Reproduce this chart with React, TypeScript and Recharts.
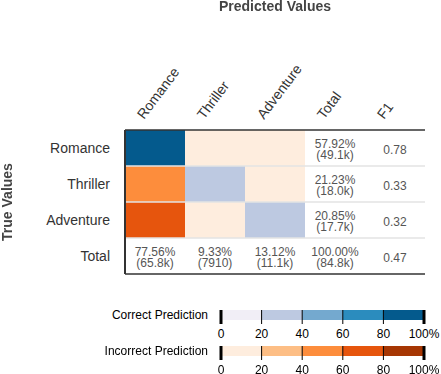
import React from 'react';
import {
  ComposedChart, XAxis, YAxis, ReferenceArea, ReferenceLine, Scatter, BarChart, Bar,
} from 'recharts';

// ---- data ----
const classes = ['Romance', 'Thriller', 'Adventure'];
const columnLabels = ['Romance', 'Thriller', 'Adventure', 'Total', 'F1'];
const rowLabels = ['Romance', 'Thriller', 'Adventure', 'Total'];
// confusion matrix counts (rows = true, cols = predicted), estimated
const romanceRow = [44800, 1230, 3080];
const thrillerRow = [10300, 4280, 3420];
const adventureRow = [10700, 2400, 4600];
const rowTotalPct = ['57.92%', '21.23%', '20.85%'];
const rowTotalCount = ['(49.1k)', '(18.0k)', '(17.7k)'];
const colTotalPct = ['77.56%', '9.33%', '13.12%'];
const colTotalCount = ['(65.8k)', '(7910)', '(11.1k)'];
const grandPct = '100.00%';
const grandCount = '(84.8k)';
const f1Scores = ['0.78', '0.33', '0.32'];
const f1Total = '0.47';
const legendStops = [0, 20, 40, 60, 80, 100];
const correctColors = ['#f1eef6', '#bdc9e1', '#74a9cf', '#2b8cbe', '#045a8d'];
const incorrectColors = ['#feedde', '#fdbe85', '#fd8d3c', '#e6550d', '#a63603'];

const matrix = [romanceRow, thrillerRow, adventureRow];
const FONT = '"Liberation Sans", Arial, sans-serif';

const binColor = (pct: number, colors: string[]) => {
  const idx = Math.min(colors.length - 1, Math.floor(pct / 20));
  return colors[idx];
};

const cells = matrix.flatMap((row, r) => {
  const total = row.reduce((a, b) => a + b, 0);
  return row.map((v, c) => ({
    r, c,
    color: binColor((v / total) * 100, r === c ? correctColors : incorrectColors),
  }));
});

const textPoints = [
  ...classes.map((_, r) => ({ x: 3.5, y: r + 0.5, l1: rowTotalPct[r], l2: rowTotalCount[r] })),
  ...classes.map((_, r) => ({ x: 4.5, y: r + 0.5, l1: f1Scores[r], l2: '' })),
  ...classes.map((_, c) => ({ x: c + 0.5, y: 3.5, l1: colTotalPct[c], l2: colTotalCount[c] })),
  { x: 3.5, y: 3.5, l1: grandPct, l2: grandCount },
  { x: 4.5, y: 3.5, l1: f1Total, l2: '' },
];

const CellText = (props: any) => {
  const { cx, cy, payload } = props;
  if (cx == null) return null;
  if (!payload.l2) {
    return (
      <text x={cx} y={cy + 5.5} textAnchor="middle" fontSize={12} fill="#555" fontFamily={FONT}>
        {payload.l1}
      </text>
    );
  }
  return (
    <g>
      <text x={cx} y={cy} textAnchor="middle" fontSize={12} fill="#555" fontFamily={FONT}>{payload.l1}</text>
      <text x={cx} y={cy + 11} textAnchor="middle" fontSize={12} fill="#555" fontFamily={FONT}>{payload.l2}</text>
    </g>
  );
};

const XTick = (props: any) => {
  const { x, y, payload } = props;
  const label = columnLabels[Math.floor(payload.value)];
  const sx = x - 11;
  const sy = y;
  return (
    <text x={sx} y={sy} transform={`rotate(-53, ${sx}, ${sy})`} textAnchor="start" fontSize={14} fill="#333" fontFamily={FONT}>
      {label}
    </text>
  );
};

const YTick = (props: any) => {
  const { x, y, payload } = props;
  return (
    <text x={x} y={y + 5} textAnchor="end" fontSize={14} fill="#333" fontFamily={FONT}>
      {rowLabels[Math.floor(payload.value)]}
    </text>
  );
};

const LEGEND_BAR_H = 10;
const LEGEND_TICK_MARGIN = 9;
const LEGEND_TOP_PAD = 5;

const LegendXTick = (props: any) => {
  const { x, y, payload } = props;
  const v = payload.value;
  const edge = v === 0 || v === 100;
  return (
    <g>
      <line x1={x} x2={x} y1={y - LEGEND_TICK_MARGIN - LEGEND_BAR_H} y2={y - 5}
        stroke="#000" strokeWidth={edge ? 3 : 1} />
      <text x={x} y={y} dy="0.71em" textAnchor="middle" fontSize={12} fill="#000" fontFamily={FONT}>
        {v === 100 ? '100%' : String(v)}
      </text>
    </g>
  );
};

const LegendYTick = (props: any) => {
  const { x, y, payload } = props;
  return (
    <text x={x} y={y + 4.3} textAnchor="end" fontSize={12} fill="#000" fontFamily={FONT}>
      {payload.value}
    </text>
  );
};

const LegendBar = ({ title, colors }: { title: string; colors: string[] }) => {
  const row: any = { name: title };
  colors.forEach((_, i) => { row['b' + i] = legendStops[i + 1] - legendStops[i]; });
  return (
    <BarChart layout="vertical" width={441} height={40 + LEGEND_TOP_PAD} data={[row]}
      margin={{ top: LEGEND_TOP_PAD, right: 17, bottom: 0, left: 0 }} barCategoryGap={0}>
      <XAxis type="number" domain={[0, 100]} ticks={legendStops} interval={0}
        axisLine={false} tickSize={0} tickMargin={LEGEND_TICK_MARGIN} tickLine={false}
        tick={<LegendXTick />} height={40 - LEGEND_BAR_H} />
      <YAxis type="category" dataKey="name" width={221} axisLine={false} tickLine={false}
        interval={0} tickSize={0} tickMargin={13} tick={<LegendYTick />} />
      {colors.map((c, i) => (
        <Bar key={i} dataKey={'b' + i} stackId="a" fill={c} isAnimationActive={false} />
      ))}
    </BarChart>
  );
};

export default function App() {
  return (
    <div style={{ position: 'fixed', left: 0, top: 0, width: 441, height: 374, background: '#fff', fontFamily: FONT }}>
      <div style={{ position: 'absolute', left: 0, top: 0 }}>
        <ComposedChart width={441} height={290} margin={{ top: 0, right: 16, bottom: 16, left: 0 }}>
          <XAxis xAxisId={0} type="number" dataKey="x" domain={[0, 5]} orientation="top"
            ticks={[0.5, 1.5, 2.5, 3.5, 4.5]} interval={0} height={130}
            tickSize={0} tickMargin={10} tickLine={false}
            axisLine={{ stroke: '#333', strokeWidth: 1.5 }} tick={<XTick />} />
          <YAxis yAxisId={0} type="number" dataKey="y" domain={[0, 4]} reversed
            ticks={[0.5, 1.5, 2.5, 3.5]} interval={0} width={125}
            tickSize={0} tickMargin={15} tickLine={false}
            axisLine={{ stroke: '#333', strokeWidth: 2 }} tick={<YTick />} />
          {cells.map((cell) => (
            <ReferenceArea key={`${cell.r}-${cell.c}`} x1={cell.c} x2={cell.c + 1} y1={cell.r} y2={cell.r + 1}
              fill={cell.color} fillOpacity={1} stroke="none" />
          ))}
          {[1, 2, 3].map((v) => (
            <ReferenceLine key={v} y={v} stroke="#e3e3e3" strokeWidth={1.5} />
          ))}
          <ReferenceLine y={4} stroke="#333" strokeWidth={1.5} />
          <Scatter data={textPoints} isAnimationActive={false} shape={<CellText />} />
        </ComposedChart>
      </div>
      <div style={{ position: 'absolute', left: 175, top: -2, width: 200, textAlign: 'center', fontSize: 14, lineHeight: '16px', fontWeight: 'bold', color: '#444' }}>
        Predicted Values
      </div>
      <div style={{ position: 'absolute', left: -43, top: 194, width: 100, textAlign: 'center', fontSize: 14, lineHeight: '16px', fontWeight: 'bold', color: '#444', transform: 'rotate(-90deg)' }}>
        True Values
      </div>
      <div style={{ position: 'absolute', left: 0, top: 310 - LEGEND_TOP_PAD }}>
        <LegendBar title="Correct Prediction" colors={correctColors} />
      </div>
      <div style={{ position: 'absolute', left: 0, top: 346 - LEGEND_TOP_PAD }}>
        <LegendBar title="Incorrect Prediction" colors={incorrectColors} />
      </div>
    </div>
  );
}
